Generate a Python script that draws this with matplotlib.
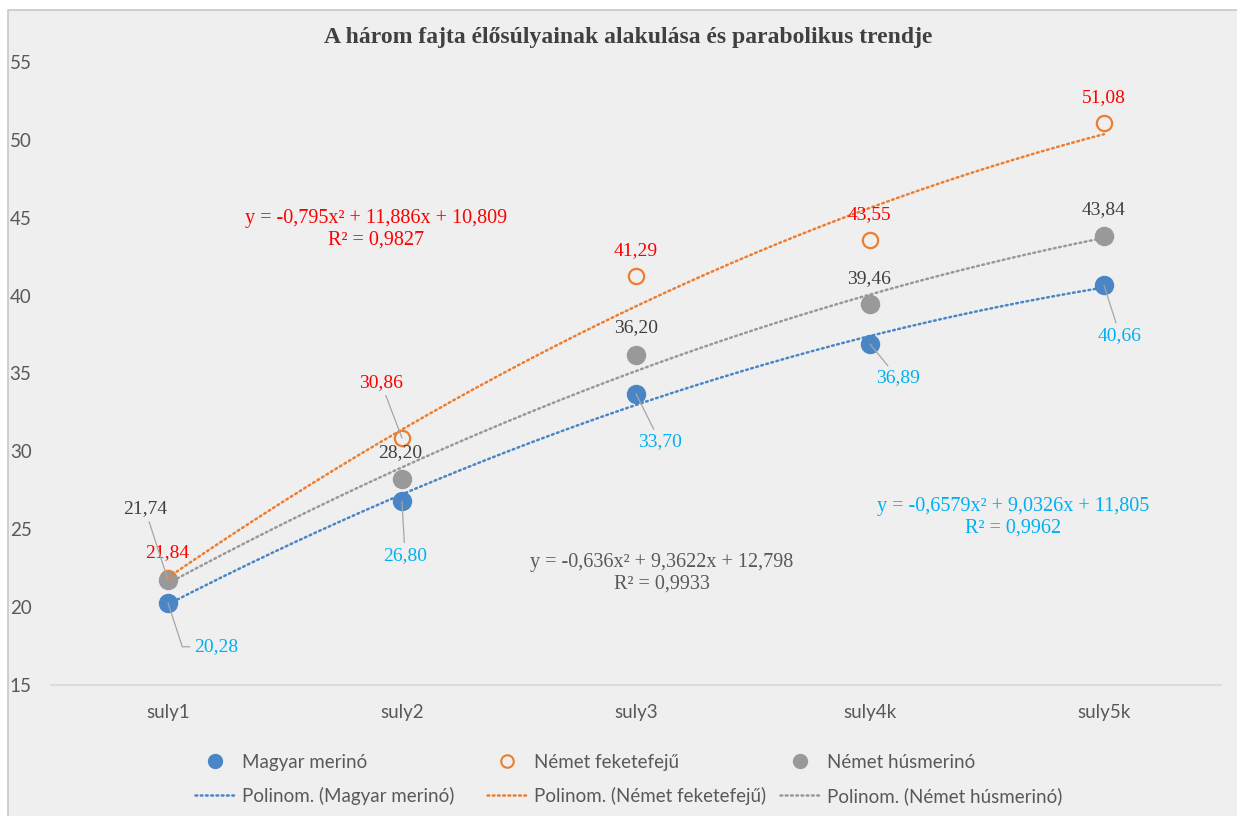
import numpy as np
import matplotlib
matplotlib.use('Agg')
import matplotlib.pyplot as plt
from matplotlib.lines import Line2D
from matplotlib.patches import Rectangle

W, H = 1237, 816

categories = ['suly1', 'suly2', 'suly3', 'suly4k', 'suly5k']
magyar = [20.28, 26.80, 33.70, 36.89, 40.66]
nemet_fekete = [21.84, 30.86, 41.29, 43.55, 51.08]
nemet_hus = [21.74, 28.20, 36.20, 39.46, 43.84]

eq_magyar = 'y = -0,6579x² + 9,0326x + 11,805\nR² = 0,9962'
eq_fekete = 'y = -0,795x² + 11,886x + 10,809\nR² = 0,9827'
eq_hus = 'y = -0,636x² + 9,3622x + 12,798\nR² = 0,9933'

title = 'A három fajta élősúlyainak alakulása és parabolikus trendje'

SANS = ['Lato', 'DejaVu Sans']
SERIF = ['Liberation Serif', 'DejaVu Serif']

c_blue = '#4a86c6'
c_orange = '#ed7d31'
c_gray = '#999999'
c_blue_txt = '#00b0f0'
c_red_txt = '#ff0000'
c_dark_txt = '#404040'
c_axis_txt = '#595959'
c_leader = '#a6a6a6'


def fmt(v):
    return f'{v:.2f}'.replace('.', ',')


def px(x, y):
    # figure pixel (top-left origin) -> figure fraction
    return x / W, 1 - y / H


fig = plt.figure(figsize=(W / 100, H / 100), dpi=100)
fig.patch.set_facecolor('white')
fig.add_artist(Rectangle((8 / W, -0.02), 1.0, 1 - 10 / H + 0.02, transform=fig.transFigure,
                         facecolor='#efefef', edgecolor='#c8c8c8', lw=1.2, zorder=0))

ax = fig.add_axes([51 / W, 1 - 685 / H, (1221 - 51) / W, (685 - 62) / H])
ax.set_facecolor('none')
x = np.arange(1, len(categories) + 1)
ax.set_xlim(0.5, len(categories) + 0.5)
ax.set_ylim(15, 55)
ax.set_yticks(range(15, 56, 5))
ax.set_xticks(x)
ax.set_xticklabels(categories)
for s in ['left', 'right', 'top']:
    ax.spines[s].set_visible(False)
ax.spines['bottom'].set_color('#d9d9d9')
ax.spines['bottom'].set_linewidth(1.2)
ax.tick_params(axis='both', length=0, labelcolor=c_axis_txt, labelsize=13.5)
ax.tick_params(axis='x', pad=14)
ax.tick_params(axis='y', pad=14)
for lab in ax.get_xticklabels() + ax.get_yticklabels():
    lab.set_family(SANS)

# markers
ax.plot(x, magyar, 'o', ms=13, color=c_blue, mec=c_blue, zorder=3)
ax.plot(x, nemet_fekete, 'o', ms=11, mfc='none', mec=c_orange, mew=1.6, zorder=3)
ax.plot(x, nemet_hus, 'o', ms=13, color=c_gray, mec=c_gray, zorder=3)

# polynomial trendlines (order 2)
xs = np.linspace(1, len(categories), 200)
for ys_data, col in [(magyar, c_blue), (nemet_fekete, c_orange), (nemet_hus, c_gray)]:
    coef = np.polyfit(x, ys_data, 2)
    ax.plot(xs, np.polyval(coef, xs), color=col, lw=1.8,
            linestyle=(0, (0.7, 1.4)), dash_capstyle='round', zorder=4)

# data label offsets in pixels (dx right, dy down), and whether a leader line is drawn
off_blue = [(48, 44), (3, 54), (24, 48), (28, 34), (16, 50)]
lead_blue = [True, True, True, True, True]
off_red = [(-1, -26), (-21, -55), (0, -25), (-1, -26), (0, -25)]
lead_red = [False, True, False, False, False]
off_gray = [(-23, -71), (-2, -27), (0, -27), (-1, -25), (0, -26)]
lead_gray = [True, False, False, False, False]

for vals, offs, leads, tcol in [(magyar, off_blue, lead_blue, c_blue_txt),
                                (nemet_fekete, off_red, lead_red, c_red_txt),
                                (nemet_hus, off_gray, lead_gray, c_dark_txt)]:
    for i, (v, (dx, dy), lead) in enumerate(zip(vals, offs, leads)):
        kw = {}
        if lead:
            ap = dict(arrowstyle='-', color=c_leader, lw=0.9, shrinkA=1, shrinkB=0)
            if vals is magyar and i == 0:
                ap.update(connectionstyle='angle,angleA=180,angleB=-72,rad=0', relpos=(0, 0.5))
            kw['arrowprops'] = ap
        ax.annotate(fmt(v), xy=(x[i], v), xytext=(dx, -dy), textcoords='offset pixels',
                    ha='center', va='center', color=tcol, fontsize=14,
                    family=SERIF, zorder=5, **kw)

# trendline equations
for txt, (cx, cy), col in [(eq_fekete, (376, 229), c_red_txt),
                           (eq_hus, (662, 573), c_axis_txt),
                           (eq_magyar, (1013, 517), c_blue_txt)]:
    fig.text(*px(cx, cy), txt, ha='center', va='center', multialignment='center',
             color=col, fontsize=14.5, family=SERIF, linespacing=1.15)

fig.text(*px(628, 38), title, ha='center', va='center', fontsize=17,
         fontweight='bold', color=c_dark_txt, family=SERIF)

# legend: three columns, each with the series marker and its trendline
names = ['Magyar merinó', 'Német feketefejű', 'Német húsmerinó']
mk = [dict(marker='o', ms=10, color=c_blue, mec=c_blue),
      dict(marker='o', ms=9, mfc='none', mec=c_orange, mew=1.5, color=c_orange),
      dict(marker='o', ms=10, color=c_gray, mec=c_gray)]
cols = [c_blue, c_orange, c_gray]
xs_leg = [195, 487, 780]
for name, m, col, lx in zip(names, mk, cols, xs_leg):
    h1 = Line2D([], [], linestyle='none', **m)
    h2 = Line2D([], [], color=col, lw=1.8, linestyle=(0, (0.7, 1.4)), dash_capstyle='round')
    leg = fig.legend([h1, h2], [name, f'Polinom. ({name})'], loc='upper left',
                     bbox_to_anchor=px(lx, 754), frameon=False, borderpad=0,
                     borderaxespad=0, handlelength=2.13, handletextpad=0.4,
                     labelspacing=0.85, prop={'family': SANS, 'size': 13.5})
    for t in leg.get_texts():
        t.set_color(c_axis_txt)

fig.savefig('out.png', dpi=100)
